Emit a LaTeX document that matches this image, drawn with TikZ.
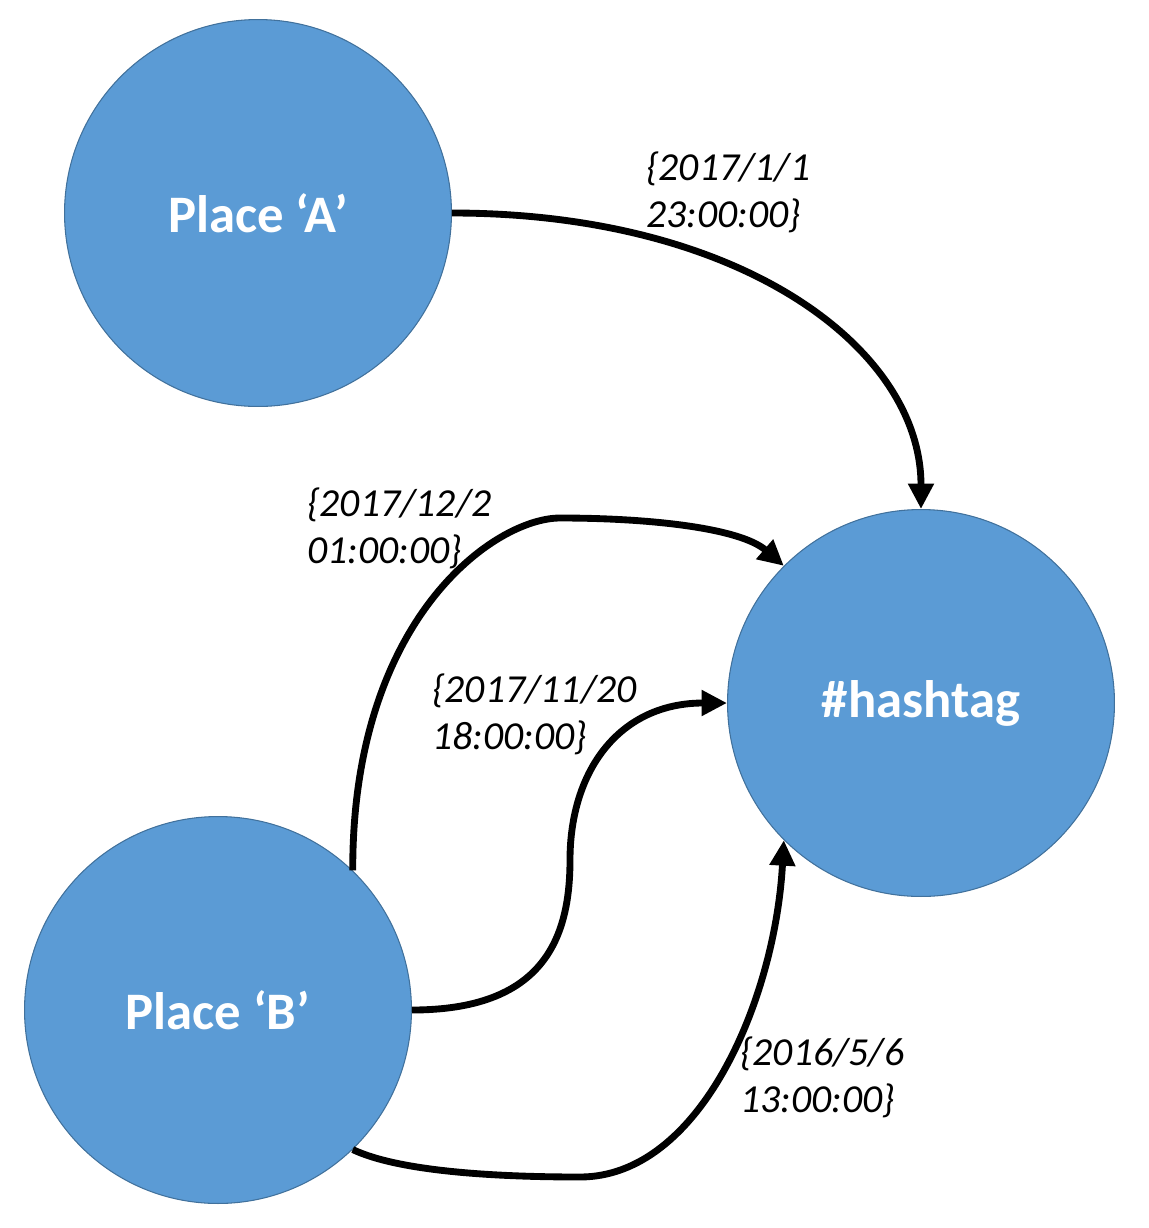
\documentclass[tikz,border=0pt]{standalone}
\usepackage{fontspec}
\setmainfont{Carlito}
\usetikzlibrary{arrows.meta}
\definecolor{placeblue}{RGB}{91,155,213}
\definecolor{placeedge}{RGB}{65,113,156}

\begin{document}
\begin{tikzpicture}[x=0.02cm, y=-0.02cm,
        main/.style = {circle, draw=placeedge, line width=0.6pt, fill=placeblue, text=white, minimum size=7.74cm, inner sep=0pt, font=\bfseries\fontsize{30}{36}\selectfont},
        stamp/.style = {anchor=base west, align=left, inner sep=0pt, font=\itshape\fontsize{22.6}{26.7}\selectfont},
        link/.style = {line width=3.9pt, -{Triangle[length=14.5pt, width=14pt]}}]
        \useasboundingbox (0,0) rectangle (1149,1228);
        \node[main] (A) at (258, 213) {Place ‘A’};
        \node[main] (H) at (921, 703) {\#hashtag};
        \node[main] (B) at (218, 1010) {Place ‘B’};
        \draw[link] (A.east) .. controls +(290,0) and +(0,-160) .. (H.north);
        \draw[link] (B.46) .. controls (352,618) and (495,518) .. (560,518) .. controls (650,518) and (740,528) .. (H.135);
        \draw[link] (B.east) .. controls +(130,0) and (570,940) .. (570,860) .. controls (570,770) and (620,703) .. (H.west);
        \draw[link] (B.-46) .. controls (400,1172) and (500,1177) .. (580,1177) .. controls (700,1177) and (775,1000) .. (H.225);
        \node[stamp] (t1) at (646, 227) {\{2017/1/1\\23:00:00\}};
        \node[stamp] (t2) at (307, 563) {\{2017/12/2\\01:00:00\}};
        \node[stamp] (t3) at (432, 749) {\{2017/11/20\\18:00:00\}};
        \node[stamp] (t4) at (740, 1112) {\{2016/5/6\\13:00:00\}};
    \end{tikzpicture}
\end{document}
